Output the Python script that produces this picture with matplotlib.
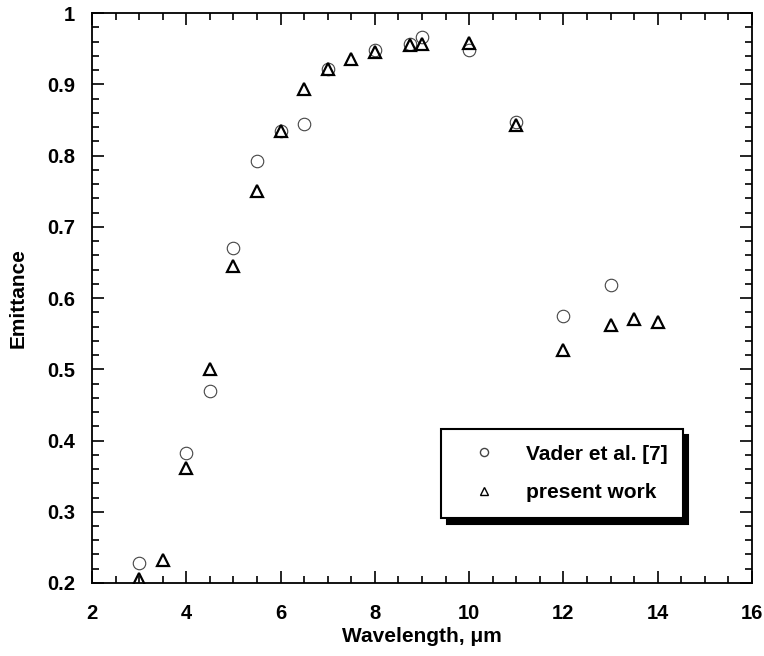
import matplotlib
matplotlib.use("Agg")
import matplotlib.pyplot as plt
from matplotlib.ticker import MultipleLocator, FuncFormatter

plt.rcParams['font.family'] = ['Liberation Sans', 'DejaVu Sans']
plt.rcParams['font.weight'] = 'bold'

# Vader et al. [7]
vader_wl = [3, 4, 4.5, 5, 5.5, 6, 6.5, 7, 8, 8.75, 9, 10, 11, 12, 13]
vader_em = [0.228, 0.383, 0.470, 0.670, 0.792, 0.835, 0.844, 0.922, 0.948,
            0.957, 0.966, 0.948, 0.847, 0.575, 0.618]

# present work
present_wl = [3, 3.5, 4, 4.5, 5, 5.5, 6, 6.5, 7, 7.5, 8, 8.75, 9, 10, 11,
              12, 13, 13.5, 14]
present_em = [0.205, 0.232, 0.362, 0.500, 0.645, 0.750, 0.834, 0.893, 0.921,
              0.935, 0.946, 0.955, 0.956, 0.958, 0.843, 0.527, 0.562, 0.570,
              0.566]

fig = plt.figure(figsize=(7.64, 6.56), dpi=100)
ax = fig.add_axes([0.1204, 0.1113, 0.8639, 0.8687])

ax.plot(vader_wl, vader_em, linestyle='none', marker='o', markersize=9,
        markerfacecolor='none', markeredgecolor='#444444', markeredgewidth=0.8,
        label='Vader et al. [7]')
ax.plot(present_wl, present_em, linestyle='none', marker='^', markersize=9,
        markerfacecolor='none', markeredgecolor='black', markeredgewidth=1.6,
        label='present work')

ax.set_xlim(2, 16)
ax.set_ylim(0.2, 1.0)
ax.xaxis.set_major_locator(MultipleLocator(2))
ax.xaxis.set_minor_locator(MultipleLocator(0.5))
ax.yaxis.set_major_locator(MultipleLocator(0.1))
ax.yaxis.set_minor_locator(MultipleLocator(0.02))
ax.yaxis.set_major_formatter(
    FuncFormatter(lambda v, p: "1" if abs(v - 1) < 1e-9 else f"{v:.1f}"))

ax.tick_params(which='both', direction='in', top=True, right=True,
               labelsize=14.5, width=1.2)
ax.tick_params(axis='x', which='both', pad=15)
ax.tick_params(axis='y', which='both', pad=12)
ax.tick_params(which='major', length=8.5)
ax.tick_params(which='minor', length=5)
for s in ax.spines.values():
    s.set_linewidth(1.3)

ax.set_xlabel('Wavelength, \u03bcm', fontsize=15, fontweight='bold', labelpad=3)
ax.set_ylabel('Emittance', fontsize=15, fontweight='bold', labelpad=14)

leg = ax.legend(loc='lower left', bbox_to_anchor=(0.529, 0.114),
                frameon=True, fancybox=False, edgecolor='black',
                shadow={'ox': 4, 'oy': -4, 'color': 'black', 'alpha': 1},
                prop={'size': 15, 'weight': 'bold'}, markerscale=0.65,
                handlelength=2.6, handletextpad=0.7,
                borderpad=0.75, labelspacing=0.95, borderaxespad=0)
leg.get_frame().set_linewidth(1.5)
for h in leg.legend_handles:
    h.set_markeredgewidth(1.0)

fig.savefig('out.png', dpi=100)
